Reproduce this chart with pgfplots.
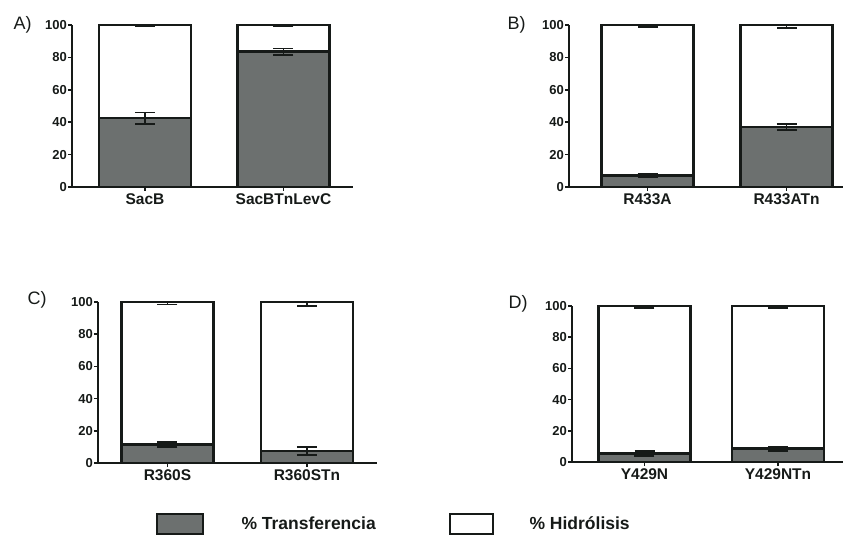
\documentclass[border=0pt]{standalone}
\usepackage{pgfplots}
\usepackage{pgfplotstable}
\pgfplotsset{compat=1.18}
\usepackage{fontspec}
\setmainfont{Liberation Sans}
\definecolor{barfill}{RGB}{108,112,111}
\definecolor{edge}{RGB}{22,26,24}

% x: category index, t: % transferencia, te: its error, top: stack top, he: hydrolysis error
\pgfplotstableread{
x t te top he
0 42.5 3.5 100 0.4
1 83.5 2.0 100 0.4
}\dataA
\pgfplotstableread{
x t te top he
0 7.0 1.0 100 1.0
1 37.0 2.0 100 2.0
}\dataB
\pgfplotstableread{
x t te top he
0 11.5 1.5 100 1.5
1 7.5 2.5 100 2.5
}\dataC
\pgfplotstableread{
x t te top he
0 5.5 1.5 100 1.5
1 8.5 1.5 100 1.5
}\dataD

\pgfplotsset{
  panel/.style={
    scale only axis,
    ymin=0, ymax=100,
    axis x line*=bottom, axis y line*=left,
    axis line style={line width=2pt, color=edge, -},
    ytick={0,20,...,100}, xtick={0,1},
    tick align=outside, major tick length=4pt,
    tick style={line width=1.6pt, color=edge},
    /pgf/number format/assume math mode=true,
    yticklabel style={font=\bfseries\fontsize{13}{13}\selectfont, color=edge, inner sep=1pt},
    xticklabel style={font=\bfseries\fontsize{15.5}{15.5}\selectfont, color=edge, inner sep=2pt},
    clip=false,
  },
  hbar/.style={ybar, bar width=92pt, bar shift=0pt, fill=white, draw=edge, line width=2.6pt,
    error bars/.cd, y dir=minus, y explicit, error mark=|,
    error bar style={line width=1.8pt, color=edge},
    error mark options={line width=1.8pt, mark size=10pt, color=edge}},
  tbar/.style={ybar, bar width=92pt, bar shift=0pt, fill=barfill, draw=edge, line width=2.6pt,
    error bars/.cd, y dir=both, y explicit, error mark=|,
    error bar style={line width=1.8pt, color=edge},
    error mark options={line width=1.8pt, mark size=10pt, color=edge}},
}

\begin{document}
\begin{tikzpicture}
\useasboundingbox (0,0) rectangle (845pt,536pt);

% Panel A
\begin{axis}[panel, at={(72pt,349pt)}, anchor=south west, width=281pt, height=162pt,
  xmin=-0.527, xmax=1.502, xticklabels={SacB,SacBTnLevC}]
\addplot[hbar] table[x=x, y=top, y error=he]{\dataA};
\addplot[tbar] table[x=x, y=t, y error=te]{\dataA};
\end{axis}

% Panel B
\begin{axis}[panel, at={(569pt,349pt)}, anchor=south west, width=274pt, height=162pt,
  xmin=-0.565, xmax=1.406, xticklabels={R433A,R433ATn}]
\addplot[hbar] table[x=x, y=top, y error=he]{\dataB};
\addplot[tbar] table[x=x, y=t, y error=te]{\dataB};
\end{axis}

% Panel C
\begin{axis}[panel, at={(98pt,73pt)}, anchor=south west, width=279pt, height=161pt,
  xmin=-0.498, xmax=1.502, xticklabels={R360S,R360STn}]
\addplot[hbar] table[x=x, y=top, y error=he]{\dataC};
\addplot[tbar] table[x=x, y=t, y error=te]{\dataC};
\end{axis}

% Panel D
\begin{axis}[panel, at={(572pt,74pt)}, anchor=south west, width=271pt, height=156pt,
  xmin=-0.543, xmax=1.487, xticklabels={Y429N,Y429NTn}]
\addplot[hbar] table[x=x, y=top, y error=he]{\dataD};
\addplot[tbar] table[x=x, y=t, y error=te]{\dataD};
\end{axis}

% Panel letters
\node[anchor=west, font=\fontsize{18}{18}\selectfont, color=edge] at (10pt,511pt) {A)};
\node[anchor=west, font=\fontsize{18}{18}\selectfont, color=edge] at (504pt,511pt) {B)};
\node[anchor=west, font=\fontsize{18}{18}\selectfont, color=edge] at (24pt,236pt) {C)};
\node[anchor=west, font=\fontsize{18}{18}\selectfont, color=edge] at (505pt,232pt) {D)};

% Legend
\draw[fill=barfill, draw=edge, line width=2.2pt] (157pt,2pt) rectangle (203pt,22pt);
\node[anchor=west, font=\bfseries\fontsize{17.5}{17.5}\selectfont, color=edge] at (238pt,13pt) {\% Transferencia};
\draw[fill=white, draw=edge, line width=2.2pt] (450pt,2pt) rectangle (493pt,22pt);
\node[anchor=west, font=\bfseries\fontsize{17.5}{17.5}\selectfont, color=edge] at (526pt,13pt) {\% Hidrólisis};
\end{tikzpicture}
\end{document}
